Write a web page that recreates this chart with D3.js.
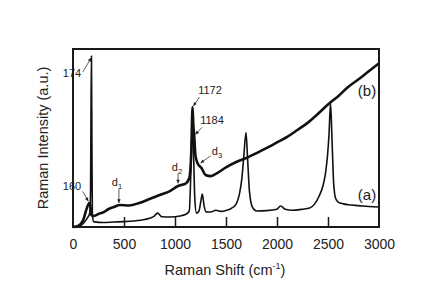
<!DOCTYPE html>
<html lang="en">
<head>
<meta charset="UTF-8">
<title>Raman spectra</title>
<script src="https://d3js.org/d3.v7.min.js"></script>
<style>
  body { margin: 0; background: #fff; }
  svg { display: block; font-family: "Liberation Sans", Arial, sans-serif; }
</style>
</head>
<body>
<script>
// raman shift (cm-1) and intensity (a.u., 0..100 of the frame height)
const shiftA = [0, 60, 100, 140, 165, 172, 176, 181, 186, 190, 200, 300, 400, 500, 600, 700, 790, 830, 870, 950, 1050, 1100, 1140, 1155, 1165, 1172, 1180, 1195, 1210, 1235, 1255, 1268, 1285, 1305, 1350, 1400, 1450, 1500, 1550, 1600, 1630, 1655, 1675, 1696, 1712, 1730, 1760, 1800, 1900, 2000, 2035, 2080, 2150, 2250, 2320, 2370, 2410, 2450, 2475, 2495, 2510, 2525, 2540, 2555, 2575, 2600, 2650, 2700, 2800, 2900, 3000];
const intA = [0, 0.3, 2, 5, 8, 20, 60, 96, 40, 8, 3, 2.5, 2.8, 3, 3.4, 4.2, 5.8, 7.8, 5.8, 5.6, 6.2, 7, 9, 30, 52, 58, 45, 15, 7.8, 9, 15, 18.5, 12, 8.5, 8.4, 9.4, 8.8, 9.3, 10.4, 13, 18, 27, 40, 53, 38, 20, 11, 9, 9.2, 10, 11.8, 10, 9.4, 10, 10.7, 13, 17, 23, 30, 40, 52, 69.7, 48, 25, 16, 14, 13, 12.5, 12, 11.5, 11.2];

const shiftB = [0, 50, 100, 130, 160, 170, 180, 200, 250, 300, 350, 400, 460, 550, 650, 750, 850, 950, 1030, 1060, 1100, 1140, 1160, 1172, 1180, 1188, 1200, 1220, 1260, 1300, 1350, 1400, 1500, 1600, 1700, 1800, 1900, 2000, 2100, 2200, 2300, 2400, 2500, 2600, 2700, 2800, 2900, 3000];
const intB = [0, 0.6, 3.9, 9.6, 13.5, 11.8, 6.7, 6.2, 7.3, 8.4, 10.1, 11.2, 12.4, 12.1, 13.5, 15.7, 18, 20.2, 23, 23.6, 24.2, 27.5, 43, 67.4, 57, 51.7, 40.4, 36, 33.1, 29.2, 28.6, 29.8, 33.5, 36.5, 38.8, 41.5, 44.4, 47.5, 50.6, 54.5, 58.5, 63.5, 68.8, 73.5, 78.8, 83, 87.5, 92];

const xTicks = [0, 500, 1000, 1500, 2000, 2500, 3000];

// peak annotations: label, subscript, label position, arrow from/to (data units)
const notes = [
  { t: "174", sub: "", lx: 72, ly: 77, x1: 95, y1: 87, x2: 178, y2: 95 },
  { t: "160", sub: "", lx: 72, ly: 190, x1: 95, y1: 20, x2: 150, y2: 14.5 },
  { t: "1172", sub: "", lx: 210, ly: 94, x1: 1240, y1: 73, x2: 1180, y2: 68 },
  { t: "1184", sub: "", lx: 212, ly: 124, x1: 1265, y1: 56, x2: 1200, y2: 52 },
  { t: "d", sub: "3", lx: 217, ly: 155, x1: 1350, y1: 40, x2: 1250, y2: 36 },
  { t: "d", sub: "2", lx: 177, ly: 171, x1: 1030, y1: 30, x2: 1030, y2: 24.5 },
  { t: "d", sub: "1", lx: 117, ly: 186, x1: 450, y1: 21.5, x2: 450, y2: 13.5 }
];

const W = 436, H = 302;
const mLeft = 73, mRight = 379, mTop = 49, mBottom = 227;

const svg = d3.select("body").append("svg")
  .attr("width", W).attr("height", H);

const x = d3.scaleLinear().domain([0, 3000]).range([mLeft, mRight]);
const y = d3.scaleLinear().domain([0, 100]).range([mBottom, mTop]);

const line = d3.line().x(d => x(d[0])).y(d => y(d[1])).curve(d3.curveMonotoneX);

// curves
svg.append("path")
  .datum(d3.zip(shiftA, intA))
  .attr("d", line)
  .attr("fill", "none").attr("stroke", "#111").attr("stroke-width", 1.6)
  .attr("stroke-linejoin", "round");

svg.append("path")
  .datum(d3.zip(shiftB, intB))
  .attr("d", line)
  .attr("fill", "none").attr("stroke", "#111").attr("stroke-width", 2.6)
  .attr("stroke-linejoin", "round");

// frame
svg.append("rect")
  .attr("x", mLeft).attr("y", mTop)
  .attr("width", mRight - mLeft).attr("height", mBottom - mTop)
  .attr("fill", "none").attr("stroke", "#1a1a1a").attr("stroke-width", 2);

// x axis, ticks pointing inward
const xAxis = d3.axisBottom(x).tickValues(xTicks).tickFormat(d3.format("d"))
  .tickSizeInner(-10).tickSizeOuter(0).tickPadding(12);
const gx = svg.append("g").attr("transform", `translate(0,${mBottom})`).call(xAxis);
gx.select(".domain").remove();
gx.selectAll(".tick line").attr("stroke", "#1a1a1a").attr("stroke-width", 1.5)
  .filter(d => d === 0 || d === 3000).remove();
gx.selectAll(".tick text").attr("font-size", 14).attr("fill", "#222")
  .attr("font-family", "'Liberation Sans', Arial, sans-serif").attr("dy", "0.71em");

// axis titles
const xt = svg.append("text").attr("x", 225).attr("y", 275)
  .attr("text-anchor", "middle").attr("font-size", 14.5).attr("fill", "#222");
xt.append("tspan").text("Raman Shift (cm");
xt.append("tspan").text("-1").attr("font-size", 9).attr("dy", -6);
xt.append("tspan").text(")").attr("dy", 6);

svg.append("text")
  .attr("transform", "translate(48,138) rotate(-90)")
  .attr("text-anchor", "middle").attr("font-size", 14.5).attr("fill", "#222")
  .text("Raman Intensity (a.u.)");

// curve labels
svg.append("text").attr("x", 367).attr("y", 96).attr("text-anchor", "middle")
  .attr("font-size", 15).attr("fill", "#222").text("(b)");
svg.append("text").attr("x", 367).attr("y", 200).attr("text-anchor", "middle")
  .attr("font-size", 15).attr("fill", "#222").text("(a)");

// annotations
const g = svg.append("g");
notes.forEach(n => {
  const tx = g.append("text").attr("x", n.lx).attr("y", n.ly)
    .attr("text-anchor", "middle").attr("font-size", 11).attr("fill", "#222");
  tx.append("tspan").text(n.t);
  if (n.sub) tx.append("tspan").text(n.sub).attr("font-size", 7.5).attr("dy", 3);
  g.append("line")
    .attr("x1", x(n.x1)).attr("y1", y(n.y1))
    .attr("x2", x(n.x2)).attr("y2", y(n.y2))
    .attr("stroke", "#333").attr("stroke-width", 0.8);
  const a = Math.atan2(y(n.y2) - y(n.y1), x(n.x2) - x(n.x1));
  const hx = x(n.x2), hy = y(n.y2), L = 4, s = 0.45;
  g.append("path")
    .attr("d", `M${hx},${hy}L${hx - L * Math.cos(a - s)},${hy - L * Math.sin(a - s)}L${hx - L * Math.cos(a + s)},${hy - L * Math.sin(a + s)}Z`)
    .attr("fill", "#222");
});
</script>
</body>
</html>
